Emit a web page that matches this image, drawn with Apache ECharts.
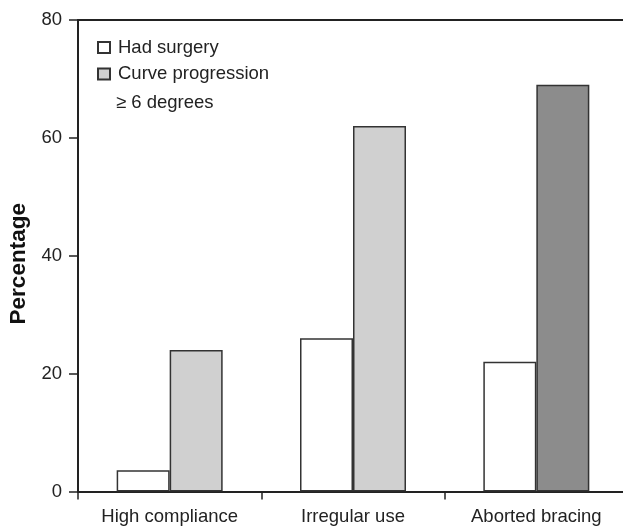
<!DOCTYPE html>
<html>
<head>
<meta charset="utf-8">
<script src="https://cdn.jsdelivr.net/npm/echarts@6/dist/echarts.min.js"></script>
<style>
  html, body { margin: 0; padding: 0; background: #fff; }
  #chart { width: 623px; height: 528px; }
</style>
</head>
<body>
<div id="chart"></div>
<script>
var categories = ['High compliance', 'Irregular use', 'Aborted bracing'];
var surgery = [3.6, 26, 22];
var progression = [24, 62, 69];
var progressionColors = ['#d0d0d0', '#d0d0d0', '#8c8c8c'];
var yTicks = [0, 20, 40, 60, 80];

var myChart = echarts.init(document.getElementById('chart'));
var font = 'Liberation Sans, Arial, sans-serif';
var lineColor = '#222';

var option = {
  animation: false,
  grid: { left: 78, width: 550, top: 20, bottom: 36.5, containLabel: false, outerBoundsMode: 'none' },
  legend: {
    orient: 'vertical',
    left: 97,
    top: 38,
    padding: 0,
    itemWidth: 12,
    itemHeight: 11,
    itemGap: 7.5,
    icon: 'rect',
    textStyle: { fontFamily: font, fontSize: 18.5, color: '#222', padding: [0, 0, 0, 3] },
    data: ['Had surgery', 'Curve progression']
  },
  graphic: [{
    type: 'text',
    left: 116,
    top: 93,
    style: { text: '\u2265 6 degrees', font: '18.5px ' + font, fill: '#222' }
  }],
  xAxis: [{
    type: 'category',
    data: categories,
    boundaryGap: true,
    axisLine: { lineStyle: { color: lineColor, width: 2 } },
    axisTick: { show: true, length: 8, alignWithLabel: false, lineStyle: { color: lineColor, width: 1.5 } },
    axisLabel: { fontFamily: font, fontSize: 18.5, color: '#222', margin: 16 }
  }, {
    type: 'category',
    position: 'top',
    data: categories,
    axisLine: { lineStyle: { color: lineColor, width: 2 } },
    axisTick: { show: false },
    axisLabel: { show: false }
  }],
  yAxis: {
    type: 'value',
    min: yTicks[0],
    max: yTicks[yTicks.length - 1],
    interval: 20,
    name: 'Percentage',
    nameLocation: 'middle',
    nameGap: 43,
    nameRotate: 90,
    nameTextStyle: { fontFamily: font, fontSize: 22.5, fontWeight: 'bold', color: '#111', padding: [0, 16, 0, 0] },
    axisLine: { show: true, lineStyle: { color: lineColor, width: 2 } },
    axisTick: { show: true, length: 9, lineStyle: { color: lineColor, width: 1.5 } },
    axisLabel: { fontFamily: font, fontSize: 18.5, color: '#222', margin: 16 },
    splitLine: { show: false }
  },
  series: [{
    name: 'Had surgery',
    type: 'bar',
    barWidth: 53,
    barGap: '0%',
    data: surgery,
    itemStyle: { color: '#ffffff', borderColor: '#333', borderWidth: 1.5 }
  }, {
    name: 'Curve progression',
    type: 'bar',
    barWidth: 53,
    barGap: '0%',
    data: progression.map(function (v, i) {
      return { value: v, itemStyle: { color: progressionColors[i] } };
    }),
    itemStyle: { color: '#d0d0d0', borderColor: '#333', borderWidth: 1.5 }
  }]
};

myChart.setOption(option);
window.addEventListener('resize', function () { myChart.resize(); });
</script>
</body>
</html>
